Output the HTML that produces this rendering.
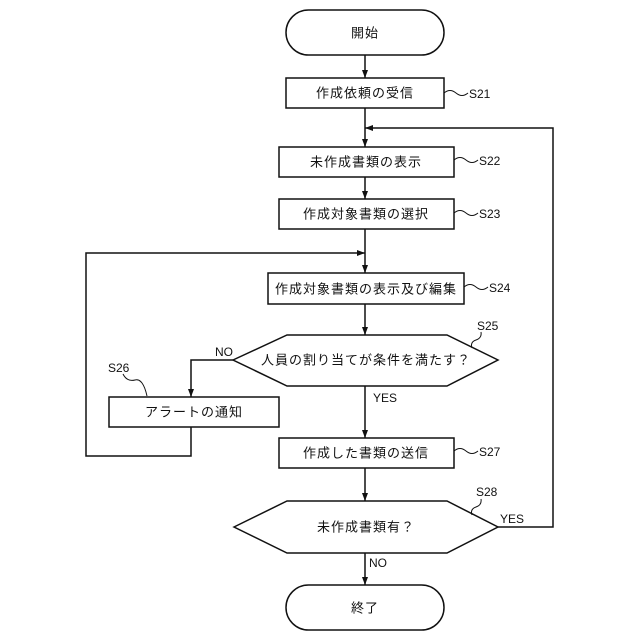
<!DOCTYPE html>
<html><head><meta charset="utf-8"><style>
html,body{margin:0;padding:0;background:#fff;}
svg{display:block;}
text{font-family:"Liberation Sans","Noto Sans CJK JP",sans-serif;fill:#111;}
.t{font-size:13px;text-anchor:middle;dominant-baseline:central;letter-spacing:1px;}
.s{font-size:12px;}
</style></head><body>
<svg width="640" height="640" viewBox="0 0 640 640" xmlns="http://www.w3.org/2000/svg">
<defs>
<marker id="d" viewBox="0 0 8 8" markerWidth="8" markerHeight="8" refX="8" refY="4" orient="auto" markerUnits="userSpaceOnUse"><path d="M0,1 L8,4 L0,7 Z" fill="#111"/></marker></defs>
<g fill="none" stroke="#111" stroke-width="1.5">
<rect x="286" y="10" width="158" height="45" rx="22.5"/>
<rect x="286" y="78" width="158" height="30"/>
<rect x="279" y="147" width="175" height="30"/>
<rect x="279" y="199" width="175" height="30"/>
<rect x="268" y="273" width="196" height="31"/>
<path d="M233,360 L287,335 L447,335 L498,360 L447,386 L287,386 Z"/>
<rect x="109" y="397" width="170" height="30"/>
<rect x="279" y="438" width="175" height="30"/>
<path d="M234,527 L287,501 L447,501 L498,527 L447,553 L287,553 Z"/>
<rect x="286" y="585" width="158" height="45" rx="22.5"/>
<path d="M365,55 V78" marker-end="url(#d)"/>
<path d="M365,108 V147" marker-end="url(#d)"/>
<path d="M365,177 V199" marker-end="url(#d)"/>
<path d="M365,229 V273" marker-end="url(#d)"/>
<path d="M365,304 V335" marker-end="url(#d)"/>
<path d="M365,386 V438" marker-end="url(#d)"/>
<path d="M365,468 V501" marker-end="url(#d)"/>
<path d="M365,553 V585" marker-end="url(#d)"/>
<path d="M498,527 H553 V128 H365" marker-end="url(#d)"/>
<path d="M233,360 H191 V397" marker-end="url(#d)"/>
<path d="M191,427 V456 H86 V253 H365" marker-end="url(#d)"/>
<g stroke-width="1">
<path d="M444,93 q6,-5 12,0 t12,0"/>
<path d="M454,160 q6,-5 12,0 t12,0"/>
<path d="M454,213 q6,-5 12,0 t12,0"/>
<path d="M464,287 q6,-5 12,0 t12,0"/>
<path d="M454,451 q6,-5 12,0 t12,0"/>
<path d="M472,348 q-2,-6 4,-8 t5,-8"/>
<path d="M472,515 q-2,-6 4,-8 t5,-8"/>
<path d="M123,374 q4,8 12,6 t12,16"/>
</g>
</g>
<text class="t" x="365" y="33">開始</text>
<text class="t" x="365" y="93">作成依頼の受信</text>
<text class="t" x="366" y="162">未作成書類の表示</text>
<text class="t" x="366" y="214">作成対象書類の選択</text>
<text class="t" x="366" y="289">作成対象書類の表示及び編集</text>
<text class="t" x="366" y="360">人員の割り当てが条件を満たす？</text>
<text class="t" x="194" y="412">アラートの通知</text>
<text class="t" x="366" y="453">作成した書類の送信</text>
<text class="t" x="366" y="527">未作成書類有？</text>
<text class="t" x="365" y="608">終了</text>
<text class="s" x="469" y="98">S21</text>
<text class="s" x="479" y="165">S22</text>
<text class="s" x="479" y="218">S23</text>
<text class="s" x="489" y="292">S24</text>
<text class="s" x="477" y="330">S25</text>
<text class="s" x="108" y="372">S26</text>
<text class="s" x="479" y="456">S27</text>
<text class="s" x="476" y="496">S28</text>
<text class="s" x="215" y="356">NO</text>
<text class="s" x="373" y="402">YES</text>
<text class="s" x="500" y="523">YES</text>
<text class="s" x="369" y="567">NO</text>
</svg>
</body></html>
